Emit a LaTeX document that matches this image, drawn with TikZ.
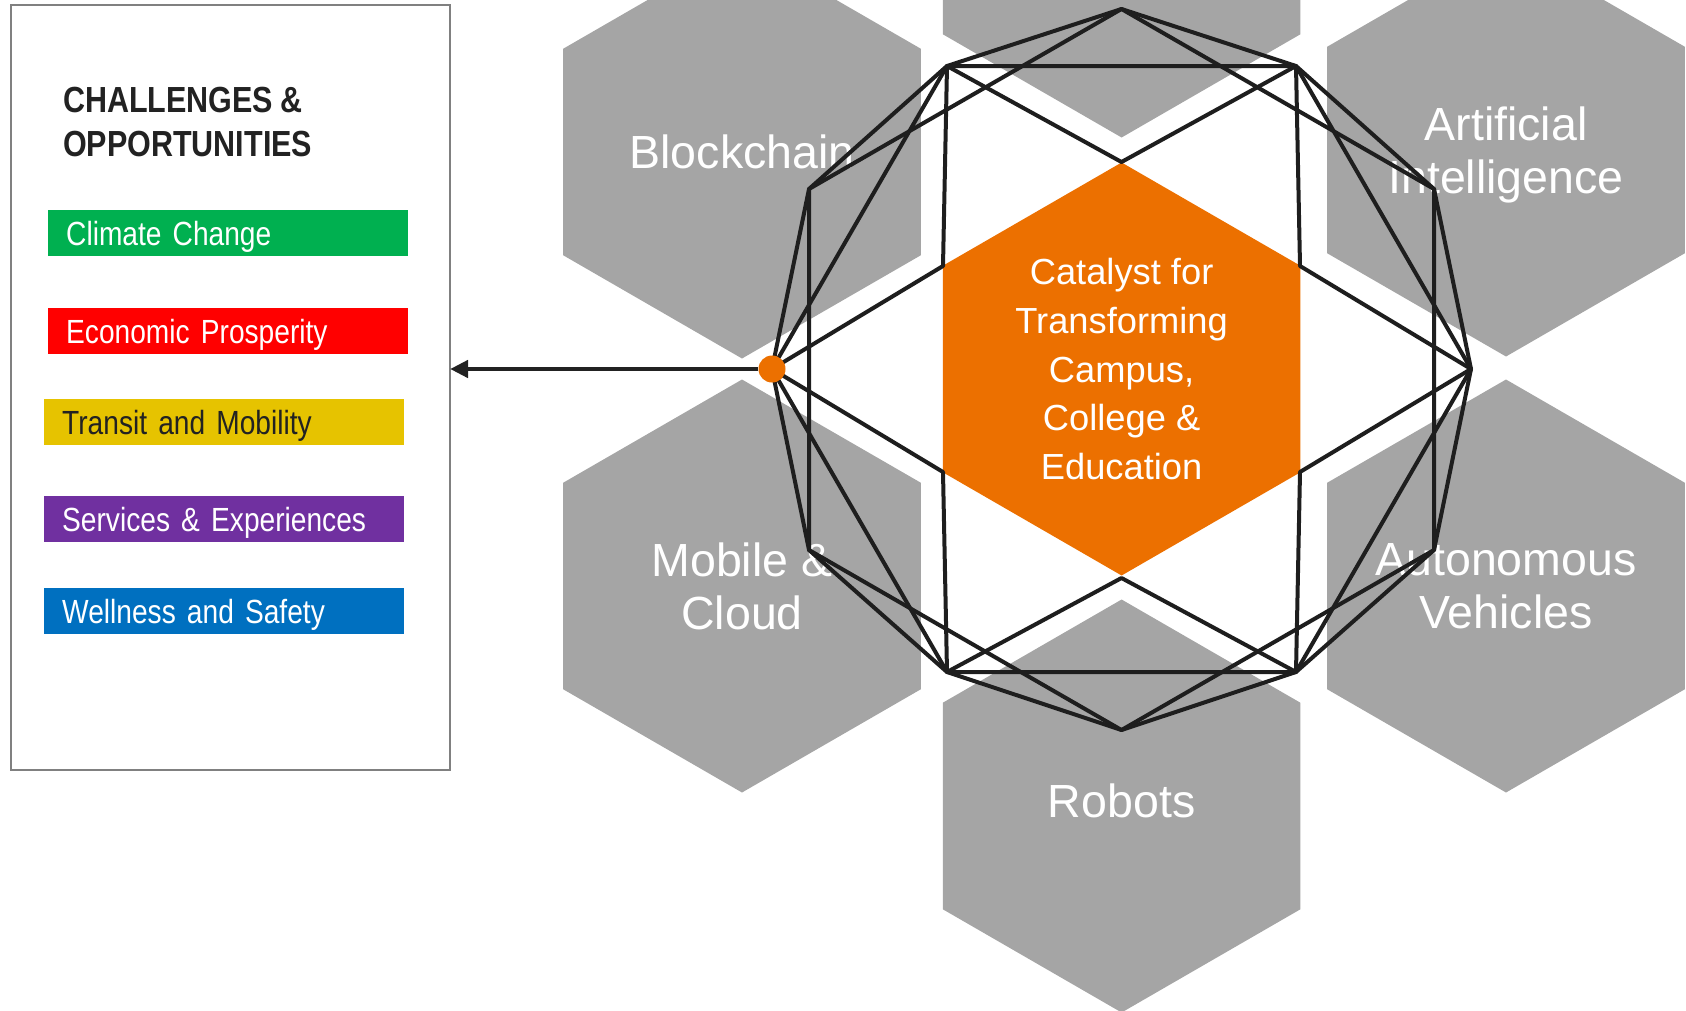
\documentclass[tikz,border=0pt]{standalone}
\usepackage{fontspec}
\setmainfont{Liberation Sans}
\newfontfamily\narrowsans[FakeStretch=0.84,WordSpace=0.84]{Liberation Sans}
\usetikzlibrary{shapes.geometric,arrows.meta}
\definecolor{hexgray}{HTML}{A5A5A5}
\definecolor{catorange}{HTML}{EC7000}
\definecolor{wire}{HTML}{1E1E1E}
\definecolor{ink}{HTML}{222222}
\definecolor{bargreen}{HTML}{00B050}
\definecolor{barred}{HTML}{FF0000}
\definecolor{baryellow}{HTML}{E6C300}
\definecolor{barpurple}{HTML}{7030A0}
\definecolor{barblue}{HTML}{0070C0}
\begin{document}
\begin{tikzpicture}[x=1pt,y=-1pt,
    hex/.style={regular polygon,regular polygon sides=6,shape border rotate=30,minimum size=413pt,
      inner sep=0pt,outer sep=0pt,fill=hexgray},
    core/.style={hex,fill=catorange},
    hexlabel/.style={text=white,align=center,inner sep=0pt,text depth=0pt,font=\fontsize{46.5}{53}\selectfont},
    corelabel/.style={hexlabel,font=\fontsize{36.3}{48.7}\selectfont},
    bar/.style={anchor=north west,minimum height=46pt,text width=324pt,inner xsep=18pt,inner ysep=0pt,
      text height=24pt,text depth=0pt,align=left,text=white,font=\narrowsans\fontsize{33.5}{40}\selectfont},
    wires/.style={wire,line width=4pt,line join=round}
  ]
  \useasboundingbox (0,0) rectangle (1686,1010);
  \clip (0,0) rectangle (1686,1010);

  \node[draw=gray,line width=1.5pt,minimum width=439.3pt,minimum height=765pt,inner sep=0pt,outer sep=0pt] (panel) at (230.4,387.5) {};
  \node[anchor=north west,inner sep=0pt,align=left,text=ink,font=\narrowsans\bfseries\fontsize{36.3}{44}\selectfont] (title) at (63,86.5) {CHALLENGES \&\\OPPORTUNITIES};
  \node[bar,fill=bargreen] (climate) at (48,210) {Climate Change};
  \node[bar,fill=barred] (economy) at (48,308) {Economic Prosperity};
  \node[bar,fill=baryellow,text=ink] (transit) at (44,399) {Transit and Mobility};
  \node[bar,fill=barpurple] (services) at (44,496) {Services \& Experiences};
  \node[bar,fill=barblue] (wellness) at (44,588) {Wellness and Safety};

  \node[hex] (upper) at (1121.6,-69) {};
  \node[hex] (chain) at (742,152) {};
  \node[hex] (ai) at (1506,150) {};
  \node[hex] (mobile) at (742,586) {};
  \node[hex] (auto) at (1506,586) {};
  \node[hex] (robots) at (1121.6,806) {};
  \node[core] (catalyst) at (1121.6,369) {};
  \node[hexlabel] (chaintext) at (chain) {Blockchain};
  \node[hexlabel] (aitext) at (ai) {Artificial\\Intelligence};
  \node[hexlabel] (mobiletext) at (mobile) {Mobile \&\\Cloud};
  \node[hexlabel] (autotext) at (auto) {Autonomous\\Vehicles};
  \node[hexlabel] (robotstext) at (1121.6,801) {Robots};
  \node[corelabel] (catalysttext) at (catalyst) {Catalyst for\\Transforming\\Campus,\\College \&\\Education};

  \coordinate (v1) at (1121.5,9);
  \coordinate (v2) at (1296,66);
  \coordinate (v3) at (1434,189);
  \coordinate (v4) at (1471,369);
  \coordinate (v5) at (1434,550);
  \coordinate (v6) at (1296,672);
  \coordinate (v7) at (1121.5,730);
  \coordinate (v8) at (947,672);
  \coordinate (v9) at (809,550);
  \coordinate (v10) at (772,369);
  \coordinate (v11) at (809,189);
  \coordinate (v12) at (947,66);
  \coordinate (i1) at (1121.5,162);
  \coordinate (i2) at (1300,266);
  \coordinate (i3) at (1300,472);
  \coordinate (i4) at (1121.5,578);
  \coordinate (i5) at (943,472);
  \coordinate (i6) at (943,266);

  \draw[wires] (v1) \foreach \k in {2,...,12}{ -- (v\k)} -- cycle;
  \draw[wires] (v1) -- (v3) -- (v5) -- (v7) -- (v9) -- (v11) -- cycle;
  \draw[wires] (v2) -- (v4) -- (v6) -- (v8) -- (v10) -- (v12) -- cycle;
  \draw[wires] (i1) -- (v2) -- (i2) -- (v4) -- (i3) -- (v6) -- (i4) -- (v8) -- (i5) -- (v10) -- (i6) -- (v12) -- cycle;

  \node[circle,fill=catorange,minimum size=27pt,inner sep=0pt] (dot) at (v10) {};
  \draw[line width=4.5pt,ink,-{Triangle[length=18pt,width=17pt]}] (dot) -- (panel.east |- dot);
\end{tikzpicture}
\end{document}
